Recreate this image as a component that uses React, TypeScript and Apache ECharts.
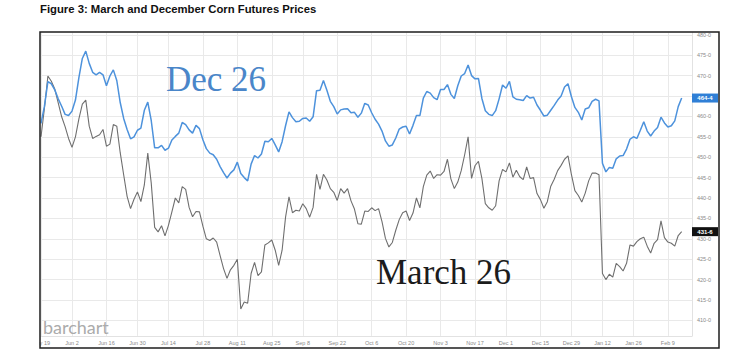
import React, { useEffect, useRef } from "react";
import * as echarts from "echarts";

const titleText = "Figure 3: March and December Corn Futures Prices";
const dec26Name = "Dec 26";
const mar26Name = "March 26";

// trading-day positions of the date labels (May 19 = 0)
const tickLabels = ["May 19", "Jun 2", "Jun 16", "Jun 30", "Jul 14", "Jul 28", "Aug 11", "Aug 25", "Sep 8", "Sep 22", "Oct 6", "Oct 20", "Nov 3", "Nov 17", "Dec 1", "Dec 15", "Dec 29", "Jan 12", "Jan 26", "Feb 9"];
const tickIndex = [0, 9, 19, 28, 37, 47, 57, 67, 76, 86, 96, 106, 116, 126, 135, 145, 154, 163, 172, 182];
const axisSlots = 190;

const yTicks = [410, 415, 420, 425, 430, 435, 440, 445, 450, 455, 460, 465, 470, 475, 480];
const yMin = 406.2;
const yMax = 480.6;

const dec26 = [
  458.3, 462.5, 468.5, 468.0, 466.5, 464.3, 462.5, 460.5, 460.2, 461.3,
  464.0, 469.5, 474.2, 476.0, 473.0, 470.8, 470.2, 470.8, 470.2, 467.5,
  469.9, 471.4, 468.8, 463.4, 459.5, 456.8, 454.5, 455.0, 456.6, 457.1,
  461.5, 463.5, 459.0, 452.3, 452.3, 452.9, 451.7, 452.2, 454.2, 455.1,
  455.9, 458.5, 458.0, 456.7, 455.9, 457.8, 457.0, 454.3, 452.1, 451.0,
  450.6, 449.5, 447.7, 446.2, 444.9, 446.1, 446.9, 448.8, 446.0, 445.0,
  444.2, 448.3, 450.4, 449.8, 450.8, 453.9, 453.8, 454.6, 453.0, 451.3,
  453.8, 457.7, 461.1, 459.7, 458.7, 458.8, 459.5, 459.6, 458.8, 459.9,
  466.3, 466.4, 468.8, 466.4, 463.7, 462.4, 460.6, 461.6, 461.8, 461.9,
  460.9, 461.0, 459.8, 460.8, 463.2, 462.8, 460.9, 459.3, 458.1, 456.4,
  454.0, 452.7, 453.0, 454.7, 456.9, 457.4, 457.6, 455.7, 457.8, 460.2,
  460.2, 464.5, 466.1, 465.7, 464.6, 464.1, 466.6, 466.6, 467.8, 465.4,
  464.4, 467.5, 469.9, 470.5, 472.6, 470.0, 469.2, 469.3, 464.4, 461.4,
  460.5, 460.2, 461.4, 464.3, 467.7, 466.9, 468.6, 464.8, 464.2, 464.1,
  463.9, 465.1, 464.5, 464.7, 462.8, 461.5, 460.1, 460.3, 461.5, 462.7,
  464.0, 465.0, 467.2, 468.0, 464.8, 462.2, 461.0, 459.1, 461.8, 462.1,
  463.7, 464.2, 463.8, 448.5, 446.4, 447.5, 447.3, 449.6, 450.3, 450.4,
  452.0, 454.4, 455.0, 454.6, 456.6, 458.7, 456.4, 455.2, 456.4, 457.3,
  459.8, 458.4, 457.4, 457.7, 458.9, 462.4, 464.5
];

const mar26 = [
  455.0, 462.0, 469.9, 468.6, 466.7, 463.3, 459.9, 457.5, 454.6, 452.4,
  455.0, 459.4, 463.0, 464.0, 457.6, 454.6, 455.1, 455.5, 456.8, 452.7,
  453.2, 458.0, 457.6, 451.1, 445.7, 440.4, 437.4, 439.7, 441.5, 439.1,
  443.2, 451.0, 443.7, 432.8, 431.7, 433.2, 430.7, 433.3, 436.6, 440.0,
  438.8, 442.8, 442.1, 437.7, 435.4, 436.7, 436.6, 433.1, 430.0, 429.6,
  430.2, 429.2, 425.9, 422.7, 420.3, 422.4, 423.5, 425.0, 412.8, 414.5,
  414.2, 421.5, 424.2, 421.0, 421.9, 428.5, 429.0, 429.7, 427.2, 423.5,
  427.2, 435.3, 440.3, 436.4, 437.0, 436.8, 438.6, 437.4, 435.3, 437.7,
  445.8, 442.1, 445.8, 444.4, 442.3, 441.4, 439.4, 442.3, 441.2, 442.3,
  439.3, 437.3, 433.7, 433.6, 436.8, 436.7, 437.6, 436.9, 437.4, 434.2,
  430.1, 428.0, 429.1, 432.1, 434.7, 436.4, 436.8, 434.5, 436.3, 440.0,
  437.6, 442.8, 445.6, 446.6, 444.8, 445.7, 445.6, 446.5, 449.5, 444.7,
  442.3, 443.9, 446.7, 450.6, 455.0, 444.8, 447.9, 449.0, 444.8, 438.6,
  437.6, 437.0, 438.1, 444.2, 447.0, 446.4, 448.6, 445.1, 446.8, 445.2,
  444.5, 447.6, 444.8, 445.0, 441.1, 439.6, 437.5, 439.1, 442.9, 444.6,
  446.7, 448.0, 449.5, 450.3, 445.7, 441.8, 440.6, 439.0, 441.2, 444.2,
  446.1, 446.1, 445.7, 421.5, 420.0, 421.3, 420.6, 424.0, 423.2, 422.1,
  424.0, 428.5, 428.2, 429.3, 430.0, 430.4, 428.2, 426.5, 428.9, 429.8,
  434.4, 430.3, 429.2, 428.9, 428.2, 430.8, 431.75
];

const fmtPrice = (v: number) => `${Math.floor(v)}-${Math.round((v - Math.floor(v)) * 8)}`;

export default function App() {
  const ref = useRef<HTMLDivElement>(null);
  useEffect(() => {
    if (!ref.current) return;
    const chart = echarts.init(ref.current, undefined, { renderer: "svg" });
    const cats = Array.from({ length: axisSlots }, (_, i) => String(i));
    const labelAt: Record<number, string> = {};
    tickIndex.forEach((idx, k) => (labelAt[idx] = tickLabels[k]));
    const isTick = (i: number) => labelAt[i] !== undefined;
    const gridColor = "#e9e9e9";
    const lastDec = dec26[dec26.length - 1];
    const lastMar = mar26[mar26.length - 1];
    // axis labels that sit under a price tag are hidden by it
    const shownTicks = yTicks.filter((t) => Math.abs(t - lastDec) > 1.5 && Math.abs(t - lastMar) > 1.5);

    const buildOption = (extra: any[]) => ({
      animation: false,
      backgroundColor: "#fff",
      grid: { left: 41, right: 60, top: 32.35, bottom: 18.1 },
      xAxis: {
        type: "category",
        data: cats,
        boundaryGap: false,
        axisLine: { show: true, lineStyle: { color: "#e2e2e2", width: 1 } },
        axisTick: { show: false },
        axisLabel: {
          interval: (i: number) => isTick(i),
          formatter: (_v: string, i: number) => labelAt[i] ?? "",
          fontSize: 5.5,
          color: "#8a8a8a",
          fontFamily: "Liberation Sans",
          margin: 4,
        },
        splitLine: { show: true, interval: (i: number) => isTick(i), lineStyle: { color: gridColor, width: 1 } },
      },
      yAxis: {
        type: "value",
        position: "right",
        min: yMin,
        max: yMax,
        axisLine: { show: true, lineStyle: { color: "#e2e2e2", width: 1 } },
        axisTick: { show: false, customValues: yTicks },
        axisLabel: {
          customValues: shownTicks,
          formatter: (v: number) => `${v}-0`,
          fontSize: 5.5,
          color: "#8a8a8a",
          fontFamily: "Liberation Sans",
          margin: 5,
        },
        splitLine: { show: true, lineStyle: { color: gridColor, width: 1 } },
      },
      series: [
        {
          name: mar26Name,
          type: "line",
          data: mar26,
          showSymbol: false,
          symbol: "none",
          lineStyle: { color: "#6f6f6f", width: 1.1 },
          z: 3,
        },
        {
          name: dec26Name,
          type: "line",
          data: dec26,
          showSymbol: false,
          symbol: "none",
          lineStyle: { color: "#4d92dc", width: 1.5 },
          z: 4,
        },
      ],
      graphic: [
        { type: "rect", z: 100, shape: { x: 0, y: 20, width: 39.5, height: 334 }, style: { fill: "#fff" } },
        {
          type: "text", z: 101, x: 40, y: 3,
          style: { text: titleText, font: 'bold 11.3px "Liberation Sans"', fill: "#111" },
        },
        {
          type: "rect", z: 101, shape: { x: 40, y: 32, width: 679, height: 316 },
          style: { fill: "none", stroke: "#1e1e1e", lineWidth: 1.5 },
        },
        {
          type: "text", z: 50, x: 166, y: 79,
          style: { text: dec26Name, font: '35px "Liberation Serif"', fill: "#4a86c9", textVerticalAlign: "middle" },
        },
        {
          type: "text", z: 50, x: 376, y: 272,
          style: { text: mar26Name, font: '35px "Liberation Serif"', fill: "#1c1c1c", textVerticalAlign: "middle" },
        },
        {
          type: "text", z: 50, x: 43, y: 327,
          style: { text: "barchart", font: '18px "Lato"', fill: "#ababab", textVerticalAlign: "middle" },
        },
        ...extra,
      ],
    });

    chart.setOption(buildOption([]));

    // price tags at the last values, placed through the axis scale
    const lastTag = (v: number, bg: string) => {
      const py = chart.convertToPixel({ yAxisIndex: 0 }, v) as number;
      return [
        { type: "rect", z: 120, shape: { x: 692, y: py - 4.5, width: 26, height: 9 }, style: { fill: bg } },
        {
          type: "text", z: 121, x: 705, y: py,
          style: {
            text: fmtPrice(v), fill: "#fff", font: 'bold 6px "Liberation Sans"',
            textAlign: "center", textVerticalAlign: "middle",
          },
        },
      ];
    };
    const tags = [...lastTag(lastDec, "#2f7fd6"), ...lastTag(lastMar, "#111111")];
    chart.setOption(buildOption(tags), true);
    return () => chart.dispose();
  }, []);
  return (
    <div
      ref={ref}
      style={{ position: "fixed", left: 0, top: 0, width: 752, height: 354, background: "#fff" }}
    />
  );
}
